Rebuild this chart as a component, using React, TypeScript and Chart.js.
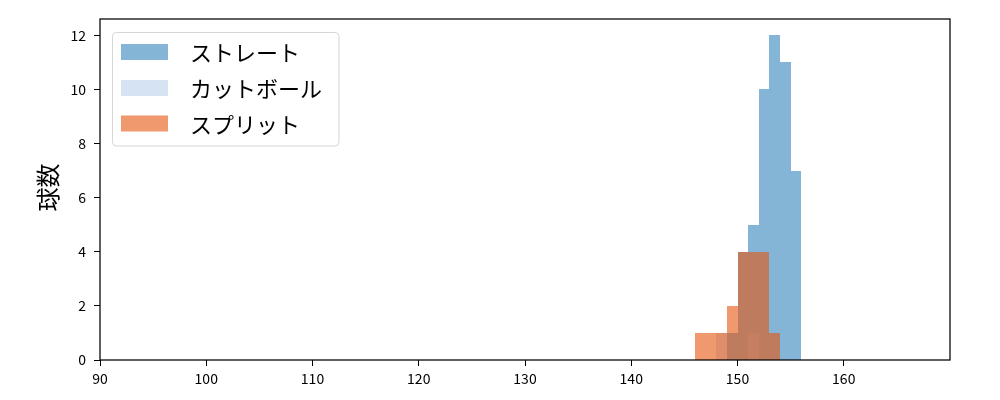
import React, { useEffect, useRef } from "react";
import { Chart, registerables } from "chart.js";

Chart.register(...registerables);

// ---- data ----
const pitchNames = ["ストレート", "カットボール", "スプリット"];
const straightSpeeds = [149, 150, 151, 152, 153, 154, 155];
const straightCounts = [1, 4, 5, 10, 12, 11, 7];
const cutSpeeds = [148, 151];
const cutCounts = [1, 1];
const splitSpeeds = [146, 147, 148, 149, 150, 151, 152, 153];
const splitCounts = [1, 1, 1, 2, 4, 4, 4, 1];
const xTickValues = [90, 100, 110, 120, 130, 140, 150, 160];
const yTickValues = [0, 2, 4, 6, 8, 10, 12];
const yAxisTitle = "球数";
const binWidth = 1;

const FONT = '"Noto Sans CJK JP", "Noto Sans", sans-serif';
const colStraight = "rgba(31,119,180,0.55)";
const colCut = "rgba(174,199,232,0.5)";
const colSplit = "rgba(230,85,13,0.6)";

const toPoints = (xs: number[], ys: number[]) =>
  xs.map((x, i) => ({ x: x + binWidth / 2, y: ys[i] }));

// snap bar edges to whole pixels (like matplotlib) so adjacent bins do not leave seams
const snapPlugin = {
  id: "snapBars",
  beforeDatasetsDraw(chart: any) {
    chart.data.datasets.forEach((_d: any, i: number) => {
      const meta = chart.getDatasetMeta(i);
      meta.data.forEach((el: any) => {
        const l = Math.round(el.x - el.width / 2);
        const r = Math.round(el.x + el.width / 2);
        el.x = (l + r) / 2;
        el.width = r - l;
        el.y = Math.round(el.y);
        el.base = Math.round(el.base);
      });
    });
  },
};

const framePlugin = {
  id: "mplFrame",
  afterDraw(chart: any) {
    const { ctx, chartArea } = chart;
    const { left, top, right, bottom } = chartArea;
    ctx.save();
    // frame
    ctx.strokeStyle = "#000";
    ctx.lineWidth = 1.25;
    ctx.strokeRect(left, top, right - left, bottom - top);

    // y title
    ctx.save();
    ctx.translate(47.5, (top + bottom) / 2 - 2);
    ctx.rotate(-Math.PI / 2);
    ctx.fillStyle = "#000";
    ctx.font = `24px ${FONT}`;
    ctx.textAlign = "center";
    ctx.textBaseline = "middle";
    ctx.fillText(yAxisTitle, 0, 0);
    ctx.restore();

    // legend
    const bx = 112.5, by = 32.5, bw = 226.5, bh = 113.5, r = 4;
    ctx.beginPath();
    ctx.moveTo(bx + r, by);
    ctx.lineTo(bx + bw - r, by);
    ctx.arcTo(bx + bw, by, bx + bw, by + r, r);
    ctx.lineTo(bx + bw, by + bh - r);
    ctx.arcTo(bx + bw, by + bh, bx + bw - r, by + bh, r);
    ctx.lineTo(bx + r, by + bh);
    ctx.arcTo(bx, by + bh, bx, by + bh - r, r);
    ctx.lineTo(bx, by + r);
    ctx.arcTo(bx, by, bx + r, by, r);
    ctx.closePath();
    ctx.fillStyle = "rgba(255,255,255,0.8)";
    ctx.fill();
    ctx.strokeStyle = "#d6d6d6";
    ctx.lineWidth = 1;
    ctx.stroke();

    const cols = [colStraight, colCut, colSplit];
    const rowY = [52, 88, 123.5];
    ctx.font = `22px ${FONT}`;
    ctx.textAlign = "left";
    ctx.textBaseline = "middle";
    pitchNames.forEach((name, i) => {
      ctx.fillStyle = "#fff";
      ctx.fillRect(121, rowY[i] - 8, 47, 16);
      ctx.fillStyle = cols[i];
      ctx.fillRect(121, rowY[i] - 8, 47, 16);
      ctx.fillStyle = "#000";
      ctx.fillText(name, 190, rowY[i] + 1);
    });
    ctx.restore();
  },
};

const barCommon = {
  borderWidth: 0,
  grouped: false,
  barPercentage: 1,
  categoryPercentage: 1,
  inflateAmount: 0,
};

export default function App() {
  const ref = useRef<HTMLCanvasElement | null>(null);

  useEffect(() => {
    document.body.style.margin = "0";
    if (!ref.current) return;
    const chart = new Chart(ref.current, {
      type: "bar",
      data: {
        datasets: [
          {
            label: pitchNames[2],
            data: toPoints(splitSpeeds, splitCounts),
            backgroundColor: colSplit,
            ...barCommon,
          },
          {
            label: pitchNames[1],
            data: toPoints(cutSpeeds, cutCounts),
            backgroundColor: colCut,
            ...barCommon,
          },
          {
            label: pitchNames[0],
            data: toPoints(straightSpeeds, straightCounts),
            backgroundColor: colStraight,
            ...barCommon,
          },
        ],
      },
      options: {
        animation: false,
        responsive: false,
        maintainAspectRatio: false,
        devicePixelRatio: 1,
        layout: { padding: { left: 0, right: 50, top: 19, bottom: 0 } },
        plugins: {
          legend: { display: false },
          tooltip: { enabled: false },
          title: { display: false },
        },
        scales: {
          x: {
            type: "linear",
            min: 90,
            max: 170,
            offset: false,
            afterBuildTicks: (scale: any) => {
              scale.ticks = xTickValues.map((v) => ({ value: v }));
            },
            afterFit: (scale: any) => {
              scale.height = 40;
            },
            grid: {
              display: true,
              offset: false,
              drawOnChartArea: false,
              drawTicks: true,
              tickLength: 6,
              color: "#000",
              lineWidth: 1,
            },
            border: { display: false },
            ticks: {
              padding: 4,
              color: "#000",
              font: { family: FONT, size: 14 },
              maxRotation: 0,
              autoSkip: false,
            },
          },
          y: {
            type: "linear",
            min: 0,
            max: 12.6,
            afterBuildTicks: (scale: any) => {
              scale.ticks = yTickValues.map((v) => ({ value: v }));
            },
            afterFit: (scale: any) => {
              scale.width = 100;
            },
            grid: {
              display: true,
              offset: false,
              drawOnChartArea: false,
              drawTicks: true,
              tickLength: 6,
              color: "#000",
              lineWidth: 1,
            },
            border: { display: false },
            ticks: {
              padding: 8,
              color: "#000",
              font: { family: FONT, size: 14 },
              autoSkip: false,
            },
          },
        },
      },
      plugins: [snapPlugin, framePlugin],
    } as any);
    return () => chart.destroy();
  }, []);

  return (
    <div style={{ width: 1000, height: 400, background: "#fff" }}>
      <canvas ref={ref} width={1000} height={400} style={{ display: "block", width: 1000, height: 400 }} />
    </div>
  );
}
